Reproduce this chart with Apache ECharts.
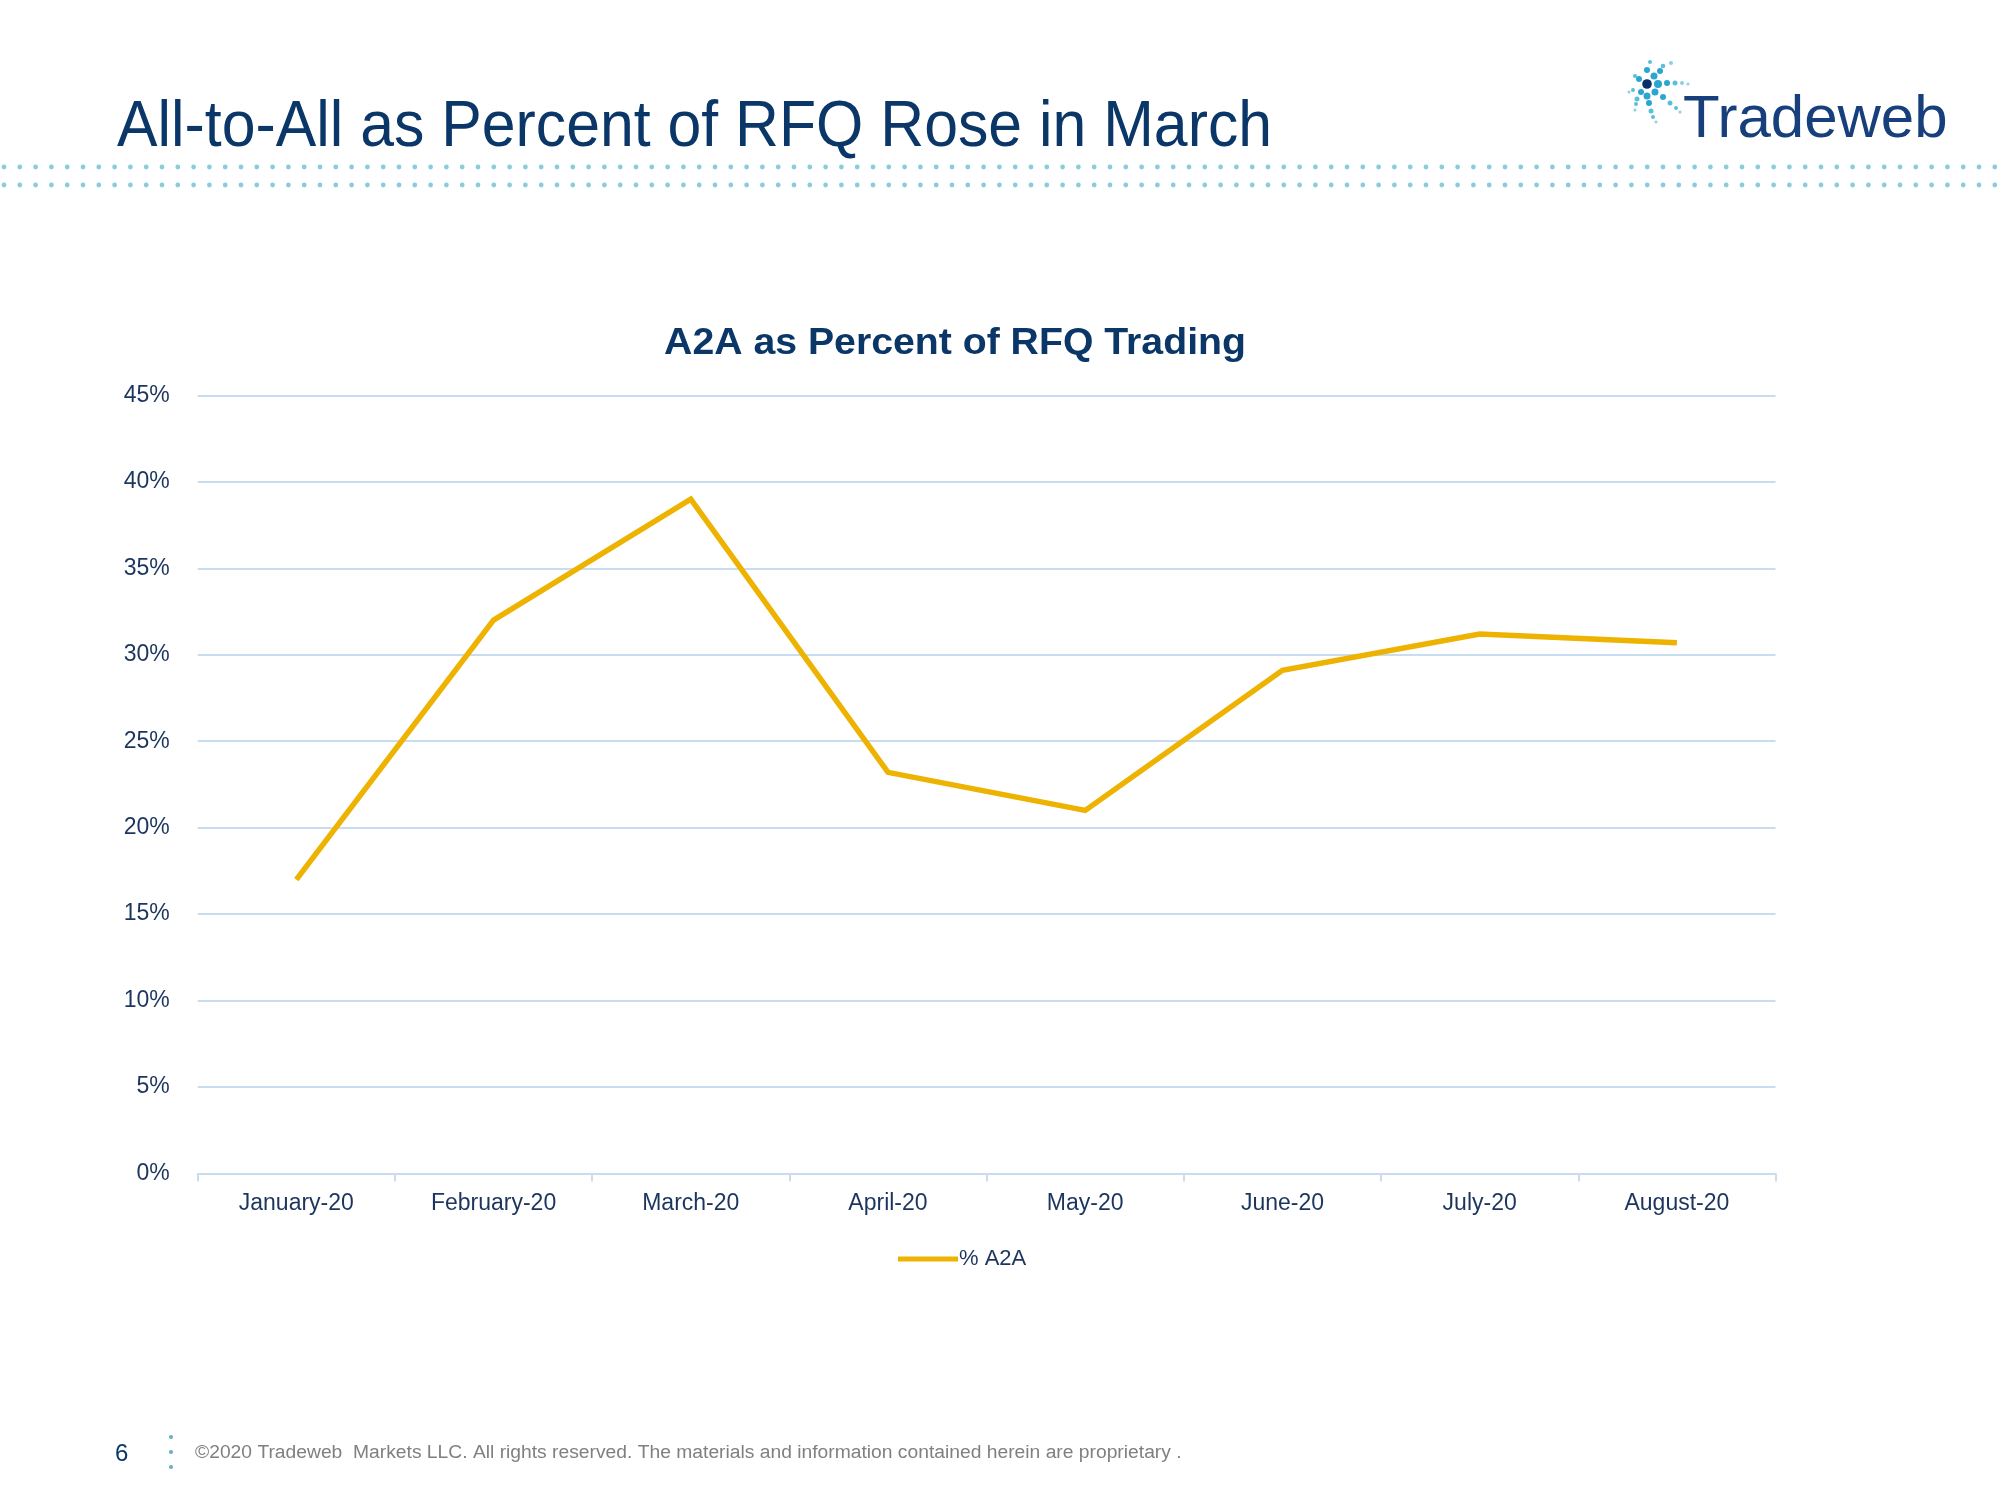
<!DOCTYPE html>
<html>
<head>
<meta charset="utf-8">
<script src="https://cdn.jsdelivr.net/npm/echarts@6/dist/echarts.min.js"></script>
<style>
html,body{margin:0;padding:0;background:#fff;}
#chart{width:2000px;height:1500px;}
</style>
</head>
<body>
<div id="chart"></div>
<script>
// ---- data ----
const categories = ['January-20','February-20','March-20','April-20','May-20','June-20','July-20','August-20'];
const a2aPercent = [17.0, 32.0, 39.0, 23.2, 21.0, 29.1, 31.2, 30.7];
const seriesName = '% A2A';
const yTicks = [0, 5, 10, 15, 20, 25, 30, 35, 40, 45];

const NAVY = '#0b3768';
const LABEL = '#1c355e';
const GRID = '#c9ddf0';
const LINE = '#eeb200';
const FONT = 'Liberation Sans, Arial';

const chart = echarts.init(document.getElementById('chart'));

// decorative dotted rule
const dots = [];
for (let x = 4; x < 2000; x += 15.8) {
  dots.push({type:'circle', shape:{cx:x, cy:167, r:2.4}, style:{fill:'#8ccbdc'}, silent:true});
  dots.push({type:'circle', shape:{cx:x, cy:185, r:2.4}, style:{fill:'#8ccbdc'}, silent:true});
}
// logo star dots [x,y,r,color]
const star = [
  [1650,62,2,'#5bbfdc'],[1663,66,2.3,'#5bbfdc'],[1671,63,2,'#8ecfe0'],
  [1647,70,3,'#2aa6d0'],[1660,71,3,'#2aa6d0'],[1635,76,2,'#5bbfdc'],
  [1654,76,3.5,'#2aa6d0'],[1639,79,3,'#2aa6d0'],
  [1658,84,4,'#2aa6d0'],[1667,83,3,'#2aa6d0'],[1675,83,2.5,'#5bbfdc'],[1682,83,2,'#8ecfe0'],[1688,84,1.5,'#8ecfe0'],
  [1633,90,2,'#5bbfdc'],[1629,92,1.5,'#8ecfe0'],
  [1641,92,3,'#2aa6d0'],[1647,96,3.5,'#2aa6d0'],[1655,92,3.5,'#2aa6d0'],
  [1637,99,2.5,'#5bbfdc'],[1636,104,2,'#5bbfdc'],[1635,110,1.5,'#8ecfe0'],
  [1649,103,3,'#2aa6d0'],[1651,111,2.5,'#5bbfdc'],[1653,117,2,'#5bbfdc'],[1656,122,1.5,'#8ecfe0'],
  [1663,97,3,'#2aa6d0'],[1670,103,2.5,'#5bbfdc'],[1676,108,2,'#5bbfdc'],[1680,112,1.5,'#8ecfe0'],
  [1647,84,4.8,'#0b2f6b']
];
const starEls = star.map(s => ({type:'circle', shape:{cx:s[0], cy:s[1], r:s[2]}, style:{fill:s[3]}, silent:true}));

const option = {
  backgroundColor: '#ffffff',
  animation: false,
  legend: {
    data: [seriesName],
    left: 893, top: 1243, itemWidth: 60, itemHeight: 5, itemGap: 0,
    icon: 'rect',
    textStyle: {fontFamily:FONT, fontSize:22, color:LABEL, padding:[0,0,0,-4]}
  },
  grid: {left: 197.7, right: 224.5, top: 395.4, bottom: 326.5, containLabel: false},
  xAxis: {
    type: 'category',
    data: categories,
    boundaryGap: true,
    axisLine: {lineStyle: {color: GRID, width: 2}},
    axisTick: {show: true, length: 8, lineStyle: {color: GRID, width: 2}},
    axisLabel: {fontFamily:FONT, fontSize:23, color:LABEL, margin:19}
  },
  yAxis: {
    type: 'value',
    min: 0, max: 45, interval: 5,
    axisLine: {show:false}, axisTick: {show:false},
    splitLine: {lineStyle: {color: GRID, width: 2}},
    axisLabel: {
      fontFamily:FONT, fontSize:23, color:LABEL, margin:28,
      formatter: v => yTicks.includes(v) ? v + '%' : ''
    }
  },
  series: [{
    name: seriesName,
    type: 'line',
    data: a2aPercent,
    symbol: 'none',
    lineStyle: {color: LINE, width: 5.5, join:'miter'},
    itemStyle: {color: LINE}
  }],
  graphic: [
    ...dots,
    ...starEls,
    {type:'text', x:117, y:96, scaleX:0.935, silent:true,
     style:{text:'All-to-All as Percent of RFQ Rose in March', fontFamily:FONT, fontSize:65, fill:NAVY}},
    {type:'text', x:955, y:344, scaleX:1.06, silent:true,
     style:{text:'A2A as Percent of RFQ Trading', fontFamily:FONT, fontWeight:'bold', fontSize:37, fill:NAVY, align:'center', verticalAlign:'middle', textAlign:'center', textVerticalAlign:'middle'}},
    {type:'text', x:1683, y:90, silent:true,
     style:{text:'Tradeweb', fontFamily:FONT, fontSize:60, fill:'#163f7c'}},
    {type:'text', x:115, y:1442, silent:true,
     style:{text:'6', fontFamily:FONT, fontSize:24, fill:NAVY}},
    {type:'circle', shape:{cx:171, cy:1437, r:2}, style:{fill:'#6aaac8'}, silent:true},
    {type:'circle', shape:{cx:171, cy:1452, r:2}, style:{fill:'#6aaac8'}, silent:true},
    {type:'circle', shape:{cx:171, cy:1467, r:2}, style:{fill:'#6aaac8'}, silent:true},
    {type:'text', x:195, y:1444, scaleX:1.07, silent:true,
     style:{text:'©2020 Tradeweb  Markets LLC. All rights reserved. The materials and information contained herein are proprietary .', fontFamily:FONT, fontSize:18, fill:'#808080'}}
  ]
};
chart.setOption(option);
</script>
</body>
</html>
